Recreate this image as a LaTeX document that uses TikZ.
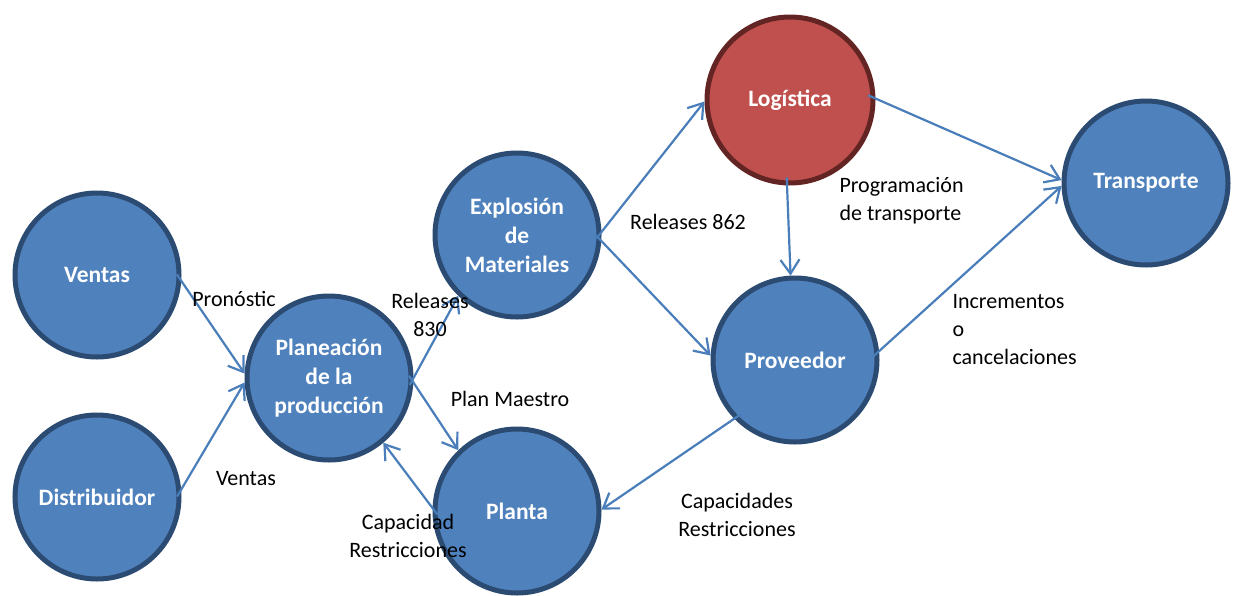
\documentclass[tikz,border=0pt]{standalone}
\usepackage{fontspec}
\setmainfont{Carlito}
\usetikzlibrary{arrows.meta}
\definecolor{areafill}{HTML}{4F81BD}
\definecolor{arealine}{HTML}{2B4B72}
\definecolor{logfill}{HTML}{C0504D}
\definecolor{logline}{HTML}{632523}
\definecolor{flowblue}{HTML}{4A7EBB}

\begin{document}
\begin{tikzpicture}[x=1pt,y=-1pt,
    area/.style={circle,draw=arealine,fill=areafill,line width=5pt,minimum size=164pt,
      inner sep=0pt,text=white,align=center,font=\fontsize{23.5}{29}\selectfont\bfseries},
    flow/.style={draw=flowblue,line width=2.2pt,shorten <=-8pt,
      -{Straight Barb[length=14pt,width=19pt]}},
    lbl/.style={align=center,font=\fontsize{22}{28}\selectfont}]
    \useasboundingbox (0,0) rectangle (1235,595);

    % areas
    \node[area] (ventas) at (97,275) {Ventas};
    \node[area] (distrib) at (97,497) {Distribuidor};
    \node[area] (plan) at (329,378) {Planeación\\de la\\producción};
    \node[area] (explosion) at (517,235) {Explosión\\de\\Materiales};
    \node[area,draw=logline,fill=logfill,minimum size=166pt] (logistica) at (790,100) {Logística};
    \node[area] (transporte) at (1146,183) {Transporte};
    \node[area] (proveedor) at (795,360) {Proveedor};
    \node[area] (planta) at (517,511) {Planta};

    % flows
    \draw[flow] (ventas.-4) -- (plan.177);
    \draw[flow] (distrib.5) -- (plan.183);
    \draw[flow] (plan.0) -- (explosion.226);
    \draw[flow] (plan.-3) -- (planta.134);
    \draw[flow] (planta.178) -- (plan.-50);
    \draw[flow] (explosion.2) -- (logistica.181);
    \draw[flow] (explosion.-4) -- (proveedor.177);
    \draw[flow] (logistica.268) -- (proveedor.93);
    \draw[flow] (logistica.1) -- (transporte.178);
    \draw[flow] (proveedor.6) -- (transporte.182);
    \draw[flow] (proveedor.224) -- (planta.1);

    % labels
    \node[lbl] (pronostico) at (234,299) {Pronóstic};
    \node[lbl] (rel830) at (430,315) {Releases\\830};
    \node[lbl] (maestro) at (510,399) {Plan Maestro};
    \node[lbl] (ventaslbl) at (246,479) {Ventas};
    \node[lbl] (capacidad) at (408,536) {Capacidad\\Restricciones};
    \node[lbl] (rel862) at (688,222) {Releases 862};
    \node[lbl,anchor=west,align=left] (programa) at (836,201) {Programación\\de transporte};
    \node[lbl,anchor=west,align=left] (incrementos) at (949,330) {Incrementos\\o\\cancelaciones};
    \node[lbl] (capacidades) at (737,515) {Capacidades\\Restricciones};
\end{tikzpicture}
\end{document}
